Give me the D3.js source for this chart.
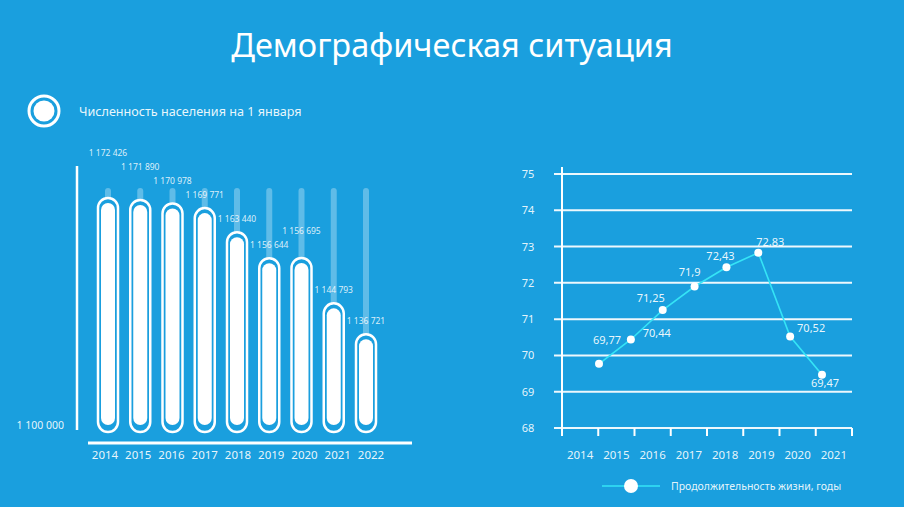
<!DOCTYPE html>
<html>
<head>
<meta charset="utf-8">
<script src="https://cdn.jsdelivr.net/npm/d3@7"></script>
<style>
  html, body { margin: 0; padding: 0; background: #1a9fde; }
  svg { display: block; }
  text { font-family: "Noto Sans", "Open Sans", sans-serif; fill: #fff; }
</style>
</head>
<body>
<svg id="chart" width="904" height="507"></svg>
<script>
// ---- data ----
const title = "Демографическая ситуация";
const popLegend = "Численность населения на 1 января";
const popYears = ["2014", "2015", "2016", "2017", "2018", "2019", "2020", "2021", "2022"];
const popValues = [1172426, 1171890, 1170978, 1169771, 1163440, 1156644, 1156695, 1144793, 1136721];
const popBaseLabel = "1 100 000";

const lifeYears = ["2014", "2015", "2016", "2017", "2018", "2019", "2020", "2021"];
const lifeValues = [69.77, 70.44, 71.25, 71.9, 72.43, 72.83, 70.52, 69.47];
const lifeTicks = [68, 69, 70, 71, 72, 73, 74, 75];
const lifeLegend = "Продолжительность жизни, годы";

// ---- drawing ----
const svg = d3.select("#chart");
const W = 904, H = 507;
const BG = "#1a9fde";
svg.append("rect").attr("width", W).attr("height", H).attr("fill", BG);

svg.append("text").attr("x", 452).attr("y", 57).attr("text-anchor", "middle")
  .attr("font-size", 32.5).text(title);

svg.append("circle").attr("cx", 44).attr("cy", 111).attr("r", 15)
  .attr("fill", "none").attr("stroke", "#fff").attr("stroke-width", 3);
svg.append("circle").attr("cx", 44).attr("cy", 111).attr("r", 10.5).attr("fill", "#fff");
svg.append("text").attr("x", 79).attr("y", 115.5).attr("font-size", 12.6)
  .attr("fill-opacity", 0.92).text(popLegend);

// ---- left chart: population capsules ----
const fmt = v => d3.format(",")(v).replace(/,/g, " ");
const xb = d3.scalePoint().domain(popYears).range([108, 366]);
const xl = d3.scalePoint().domain(popYears).range([105, 371]);
const yb = d3.scaleLinear().domain([1110000, 1172426]).range([436, 198]);
const trackTop = 188, outerBottom = 432;

const left = svg.append("g");
left.append("line").attr("x1", 77).attr("x2", 77).attr("y1", 166).attr("y2", 430)
  .attr("stroke", "#fff").attr("stroke-width", 2.5);
left.append("line").attr("x1", 88).attr("x2", 412).attr("y1", 443).attr("y2", 443)
  .attr("stroke", "#fff").attr("stroke-width", 3);
left.append("text").attr("x", 64).attr("y", 429).attr("text-anchor", "end")
  .attr("font-size", 10.5).attr("fill-opacity", 0.9).text(popBaseLabel);

const barData = popYears.map((y, i) => ({ y, v: popValues[i], i }));

// label y: above own bar, and stacked above lower neighbours' labels
const gap = 14;
const labelY = new Array(barData.length);
const order = d3.range(barData.length).sort((a, b) => popValues[a] - popValues[b]);
for (const i of order) {
  let ly = yb(popValues[i]) - 10;
  for (const j of [i - 1, i + 1]) {
    if (j >= 0 && j < barData.length && popValues[j] < popValues[i] && labelY[j] !== undefined) {
      ly = Math.min(ly, labelY[j] - gap);
    }
  }
  labelY[i] = ly;
}

const bars = left.selectAll("g.bar").data(barData).join("g").attr("class", "bar");
bars.append("rect")
  .attr("x", d => xb(d.y) - 3).attr("width", 6)
  .attr("y", trackTop).attr("height", d => outerBottom - 10 - trackTop)
  .attr("rx", 3).attr("fill", "#fff").attr("fill-opacity", 0.3);
bars.append("rect")
  .attr("x", d => xb(d.y) - 10).attr("width", 20)
  .attr("y", d => yb(d.v)).attr("height", d => outerBottom - yb(d.v))
  .attr("rx", 10).attr("fill", BG).attr("stroke", "#fff").attr("stroke-width", 2.5);
bars.append("rect")
  .attr("x", d => xb(d.y) - 7).attr("width", 14)
  .attr("y", d => yb(d.v) + 5).attr("height", d => outerBottom - 7 - yb(d.v) - 5)
  .attr("rx", 7).attr("fill", "#fff");
bars.append("text")
  .attr("x", d => xb(d.y)).attr("y", d => labelY[d.i])
  .attr("text-anchor", "middle").attr("font-size", 8.5).attr("fill-opacity", 0.85)
  .text(d => fmt(d.v));
left.selectAll("text.yr").data(popYears).join("text").attr("class", "yr")
  .attr("x", d => xl(d)).attr("y", 458.5).attr("text-anchor", "middle")
  .attr("font-size", 11.5).attr("fill-opacity", 0.92).text(d => d);

// ---- right chart: life expectancy ----
const yr = d3.scaleLinear().domain([68, 75]).range([428, 174]);
const xBand = d3.scaleBand().domain(lifeYears).range([562, 852]);
const xPt = d3.scalePoint().domain(lifeYears).range([599, 822]);

const right = svg.append("g");
right.selectAll("line.grid").data(lifeTicks).join("line").attr("class", "grid")
  .attr("x1", 554).attr("x2", 852).attr("y1", d => yr(d)).attr("y2", d => yr(d))
  .attr("stroke", "#fff").attr("stroke-width", 2).attr("stroke-opacity", 0.92);
right.selectAll("text.yt").data(lifeTicks).join("text").attr("class", "yt")
  .attr("x", 528).attr("y", d => yr(d) + 4).attr("text-anchor", "middle")
  .attr("font-size", 11).attr("fill-opacity", 0.9).text(d => d);
right.append("line").attr("x1", 562).attr("x2", 562).attr("y1", 167).attr("y2", 436)
  .attr("stroke", "#fff").attr("stroke-width", 2);
const edges = lifeYears.map(d => xBand(d) + xBand.bandwidth()).concat([xBand(lifeYears[0])]);
right.selectAll("line.tk").data(edges).join("line").attr("class", "tk")
  .attr("x1", d => d).attr("x2", d => d).attr("y1", 428).attr("y2", 436)
  .attr("stroke", "#fff").attr("stroke-width", 2);
right.selectAll("text.xt").data(lifeYears).join("text").attr("class", "xt")
  .attr("x", d => xBand(d) + xBand.bandwidth() / 2).attr("y", 459).attr("text-anchor", "middle")
  .attr("font-size", 11.5).attr("fill-opacity", 0.9).text(d => d);

const pts = lifeYears.map((y, i) => ({ y, v: lifeValues[i] }));
const line = d3.line().x(d => xPt(d.y)).y(d => yr(d.v));
right.append("path").datum(pts).attr("d", line)
  .attr("fill", "none").attr("stroke", "#35e4f6").attr("stroke-width", 1.6);
right.selectAll("circle.pt").data(pts).join("circle").attr("class", "pt")
  .attr("cx", d => xPt(d.y)).attr("cy", d => yr(d.v)).attr("r", 4).attr("fill", "#fff");
// label placement hints (dx, dy from point)
const labelOffsets = [[8, -20], [26, -2], [-12, -8], [-5, -10], [-6, -7], [12, -7], [21, -5], [3, 12]];
right.selectAll("text.pl").data(pts).join("text").attr("class", "pl")
  .attr("x", (d, i) => xPt(d.y) + labelOffsets[i][0])
  .attr("y", (d, i) => yr(d.v) + labelOffsets[i][1])
  .attr("text-anchor", "middle").attr("font-size", 11).attr("fill-opacity", 0.92)
  .text(d => String(d.v).replace(".", ","));

right.append("line").attr("x1", 602).attr("x2", 660).attr("y1", 486).attr("y2", 486)
  .attr("stroke", "#35e4f6").attr("stroke-width", 1.6);
right.append("circle").attr("cx", 631).attr("cy", 486).attr("r", 7).attr("fill", "#fff");
right.append("text").attr("x", 671).attr("y", 490).attr("font-size", 10.5)
  .attr("fill-opacity", 0.9).text(lifeLegend);
</script>
</body>
</html>
